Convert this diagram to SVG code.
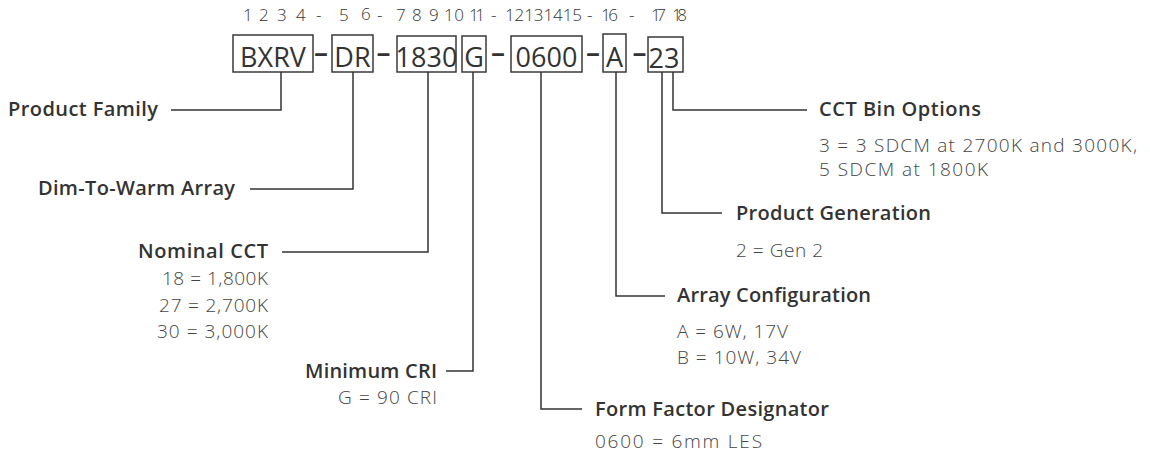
<svg xmlns="http://www.w3.org/2000/svg" width="1150" height="452" viewBox="0 0 1150 452">
<style>
.bg{fill:#ffffff}
.box{fill:none;stroke:#3a3a3a;stroke-width:1.5}
.code{font-family:"Open Sans","Liberation Sans",sans-serif;font-size:27px;font-weight:500;fill:#333333;text-anchor:middle}
.dash{font-family:"Open Sans","Liberation Sans",sans-serif;font-size:28px;font-weight:600;fill:#333333;text-anchor:middle}
.num{font-family:"Open Sans","Liberation Sans",sans-serif;font-size:17px;font-weight:300;fill:#333333}
.title{font-family:"Open Sans","Liberation Sans",sans-serif;font-size:20px;font-weight:600;fill:#333333}
.sub{font-family:"Open Sans","Liberation Sans",sans-serif;font-size:19px;font-weight:300;fill:#444444}
.conn path{fill:none;stroke:#333333;stroke-width:1.5}
</style>
<rect class="bg" x="0" y="0" width="1150" height="452"/>
<g id="position-numbers">
<text class="num" x="243" y="21">1</text>
<text class="num" x="259" y="21">2</text>
<text class="num" x="277" y="21">3</text>
<text class="num" x="296" y="21">4</text>
<text class="num" x="316" y="21">-</text>
<text class="num" x="339" y="21">5</text>
<text class="num" x="361" y="20">6</text>
<text class="num" x="377" y="21">-</text>
<text class="num" x="396" y="21">7</text>
<text class="num" x="412" y="21">8</text>
<text class="num" x="429" y="21">9</text>
<text class="num" x="444" y="21" textLength="20">10</text>
<text class="num" x="469" y="21" textLength="16">11</text>
<text class="num" x="491" y="21">-</text>
<text class="num" x="505" y="21" textLength="77">12131415</text>
<text class="num" x="587" y="21">-</text>
<text class="num" x="601" y="21" textLength="17">16</text>
<text class="num" x="629" y="21">-</text>
<text class="num" x="651" y="21" textLength="15">17</text>
<text class="num" x="672" y="21" textLength="15">18</text>
</g>
<g id="code">
<rect class="box" x="233" y="35" width="80" height="37"/>
<text class="code" x="273" y="67">BXRV</text>
<text class="dash" x="321" y="62">–</text>
<rect class="box" x="332" y="35" width="41" height="37"/>
<text class="code" x="352.5" y="67">DR</text>
<text class="dash" x="383.5" y="62">–</text>
<rect class="box" x="397" y="36" width="59" height="36"/>
<text class="code" x="426.5" y="67">1830</text>
<rect class="box" x="462" y="36" width="24" height="36"/>
<text class="code" x="474" y="67">G</text>
<text class="dash" x="498" y="62">–</text>
<rect class="box" x="511" y="36" width="71" height="36"/>
<text class="code" x="546.5" y="67">0600</text>
<text class="dash" x="593" y="62">–</text>
<rect class="box" x="603" y="34" width="23" height="38"/>
<text class="code" x="614.5" y="67">A</text>
<text class="dash" x="639.5" y="62">–</text>
<rect class="box" x="648" y="37" width="35" height="35"/>
<text class="code" x="664" y="68">23</text>
</g>
<g class="conn" id="connectors">
<path d="M281 72V110H171"/>
<path d="M353 72V189H250"/>
<path d="M428 72V252H282"/>
<path d="M473 72V371H446"/>
<path d="M541 72V409H582"/>
<path d="M616 72V296H665"/>
<path d="M662 72V213H722"/>
<path d="M673 72V110H807"/>
</g>
<g id="product-family"><text class="title" x="8" y="116" textLength="150">Product Family</text></g>
<g id="dim-to-warm"><text class="title" x="38" y="195" textLength="197">Dim-To-Warm Array</text></g>
<g id="nominal-cct">
<text class="title" x="138" y="258" textLength="130">Nominal CCT</text>
<text class="sub" x="162" y="285" textLength="106">18 = 1,800K</text>
<text class="sub" x="159" y="312" textLength="109">27 = 2,700K</text>
<text class="sub" x="157" y="338" textLength="111">30 = 3,000K</text>
</g>
<g id="minimum-cri">
<text class="title" x="305" y="378" textLength="132">Minimum CRI</text>
<text class="sub" x="338" y="404" textLength="99">G = 90 CRI</text>
</g>
<g id="form-factor">
<text class="title" x="595" y="416" textLength="234">Form Factor Designator</text>
<text class="sub" x="595" y="448" textLength="167">0600 = 6mm LES</text>
</g>
<g id="array-config">
<text class="title" x="677" y="302" textLength="194">Array Configuration</text>
<text class="sub" x="677" y="338" textLength="111">A = 6W, 17V</text>
<text class="sub" x="677" y="364" textLength="124">B = 10W, 34V</text>
</g>
<g id="product-generation">
<text class="title" x="736" y="220" textLength="195">Product Generation</text>
<text class="sub" x="736" y="257" textLength="87">2 = Gen 2</text>
</g>
<g id="cct-bin">
<text class="title" x="819" y="116" textLength="162">CCT Bin Options</text>
<text class="sub" x="819" y="152" textLength="318">3 = 3 SDCM at 2700K and 3000K,</text>
<text class="sub" x="819" y="176" textLength="169">5 SDCM at 1800K</text>
</g>
</svg>
